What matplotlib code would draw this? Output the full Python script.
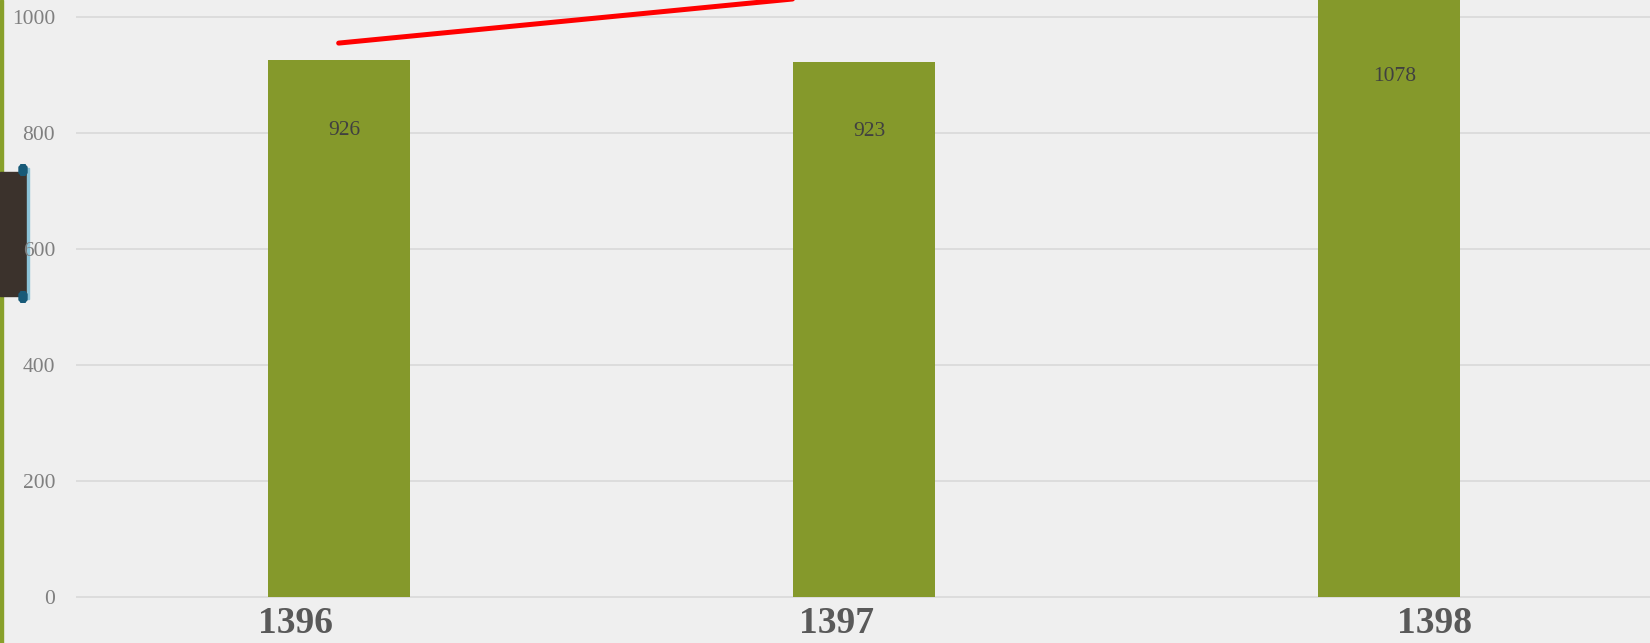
import matplotlib
matplotlib.use("Agg")
import matplotlib.pyplot as plt
from matplotlib.patches import Rectangle, FancyBboxPatch

categories = ["1396", "1397", "1398"]
values = [926, 923, 1078]
yticks = [0, 200, 400, 600, 800, 1000]

W, H = 1650, 643
fig = plt.figure(figsize=(W / 100, H / 100), dpi=100)
fig.patch.set_facecolor("#efefef")

def fx(px):
    return px / W

def fy(py):
    return 1 - py / H

ax = fig.add_axes([fx(76), 0, (1652 - 76) / W, 1])
ax.set_facecolor("none")
ax.set_xlim(-0.5, 2.5)
ax.set_ylim(-79.3, 1029.3)
for s in ax.spines.values():
    s.set_visible(False)

ax.set_yticks(yticks)
ax.set_yticklabels([str(t) for t in yticks], fontsize=15.5, color="#7f7f7f",
                   family="Liberation Serif")
ax.tick_params(axis="y", length=0, pad=15)
ax.set_xticks([])
ax.yaxis.grid(True, color="#d9d9d9", linewidth=1.2)
ax.set_axisbelow(True)

x = list(range(len(categories)))
ax.bar(x, values, width=0.27, color="#85992b", zorder=2)

top = ax.get_ylim()[1]
for xi, v in zip(x, values):
    ly = min(v - 121, top - 132)
    ax.text(xi + 0.01, ly, str(v), ha="center", va="center", fontsize=15.5,
            color="#404040", family="Liberation Serif", zorder=3)

label_offsets = [-0.082, -0.052, 0.086]
for xi, c, off in zip(x, categories, label_offsets):
    ax.text(xi + off, -45, c, ha="center", va="center", fontsize=27,
            fontweight="bold", color="#595959", family="Liberation Serif")

# red trend stroke
ax.plot([0, 1], [955, 1043], color="#ff0000", linewidth=3.6,
        solid_capstyle="round", zorder=4, clip_on=True)

# left decorations
fig.add_artist(Rectangle((0, 0), fx(2.5), 1, transform=fig.transFigure,
                         color="#88a02a", zorder=-1))
fig.add_artist(Rectangle((0, fy(296)), fx(27), (296 - 172) / H,
                         transform=fig.transFigure, color="#3b322c", zorder=-1))
fig.add_artist(Rectangle((fx(26.5), fy(299)), fx(2), (299 - 168) / H,
                         transform=fig.transFigure, color="#8cc3d8", zorder=-1))
for yc in (170, 297):
    fig.add_artist(FancyBboxPatch((fx(19), fy(yc + 5)), fx(8), 10 / H,
                                  boxstyle="round,pad=0,rounding_size=0.004",
                                  transform=fig.transFigure, color="#175a78",
                                  zorder=-1, mutation_aspect=1))

fig.savefig("out.png", dpi=100, facecolor=fig.get_facecolor())
